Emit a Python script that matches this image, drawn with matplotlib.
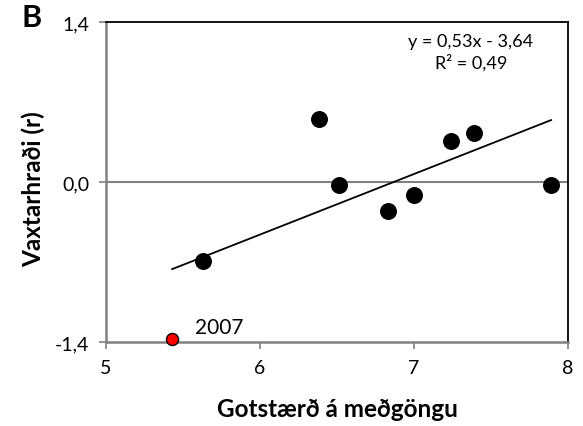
import matplotlib
matplotlib.use("Agg")
import matplotlib.pyplot as plt
import numpy as np

plt.rcParams['font.family'] = ['Lato', 'DejaVu Sans']

# Data
x_black = [5.63, 6.38, 6.51, 6.83, 7.00, 7.24, 7.39, 7.89]
y_black = [-0.69, 0.55, -0.03, -0.25, -0.11, 0.36, 0.43, -0.03]
x_red = [5.43]
y_red = [-1.37]
red_label = "2007"
slope = 0.53
intercept = -3.64
x_ticks = [5, 6, 7, 8]
y_ticks = [-1.4, 0.0, 1.4]
y_ticklabels = ["-1,4", "0,0", "1,4"]

fig = plt.figure(figsize=(5.83, 4.27), dpi=100)
ax = fig.add_axes([106/583, 1-343/427, (568-106)/583, (343-23)/427])

ax.set_xlim(5, 8)
ax.set_ylim(-1.4, 1.4)

ax.axhline(0, color='#808080', lw=1.5, zorder=1)

xs_all = x_black + x_red
xl = np.array([min(xs_all), max(xs_all)])
ax.plot(xl, slope*xl + intercept, color='black', lw=1.3, zorder=2)

ax.scatter(x_black, y_black, s=125, color='black', zorder=3, clip_on=False)
ax.scatter(x_red, y_red, s=75, color='#ff0000', edgecolor='black', linewidth=1, zorder=4, clip_on=False)
ax.text(x_red[0]+0.15, y_red[0]+0.01, red_label, fontsize=15, va='bottom', ha='left')

ax.text(0.79, 0.965, "y = 0,53x - 3,64\nR² = 0,49", transform=ax.transAxes,
        ha='center', va='top', fontsize=13, linespacing=1.3)

ax.set_xticks(x_ticks)
ax.set_xticklabels([str(t) for t in x_ticks])
ax.set_yticks(y_ticks)
ax.set_yticklabels(y_ticklabels)
ax.tick_params(axis='both', labelsize=14, length=5, width=1.2, color='#808080', direction='out')
ax.tick_params(axis='x', pad=7)
ax.tick_params(axis='y', pad=7)

for s in ['top', 'right']:
    ax.spines[s].set_color('black')
    ax.spines[s].set_linewidth(1.3)
for s in ['left', 'bottom']:
    ax.spines[s].set_color('#808080')
    ax.spines[s].set_linewidth(1.8)

ax.set_xlabel("Gotstærð á meðgöngu", fontsize=17.5, fontweight='bold', va='center')
ax.xaxis.set_label_coords(0.5, (343-410)/320)
ax.set_ylabel("Vaxtarhraði (r)", fontsize=17.5, fontweight='bold', va='center', ha='center')
ax.yaxis.set_label_coords((33-106)/462, (343-189)/320)

fig.text(22/583, 1-18/427, "B", fontsize=22, fontweight='bold', va='center', ha='left')

fig.savefig("out.png", dpi=100)
